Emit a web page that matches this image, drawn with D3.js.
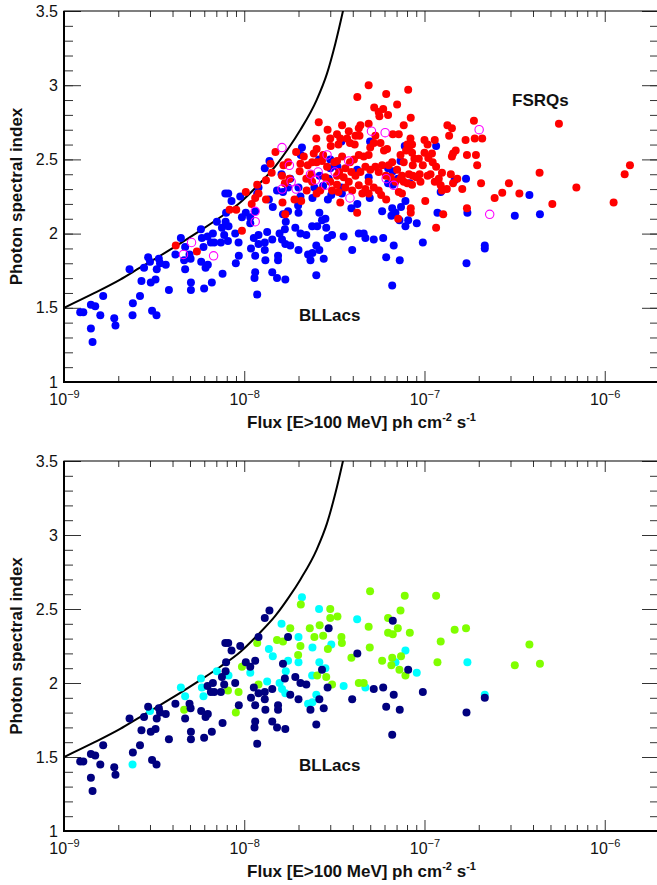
<!DOCTYPE html>
<html lang="en">
<head>
<meta charset="utf-8">
<title>Photon index vs flux</title>
<script src="https://cdn.jsdelivr.net/npm/d3@7"></script>
<style>
  body { margin: 0; background: #fff; }
  svg { font-family: "Liberation Sans", Arial, Helvetica, sans-serif; }
</style>
</head>
<body>
<svg id="chart" width="657" height="885"></svg>
<script>
// BL Lacs (shared by both panels). sed: H = navy, I = cyan, L = green
var blFlux = [
  1.23e-9,1.28e-9,1.41e-9,1.49e-9,1.59e-9,1.65e-9,1.41e-9,1.44e-9,1.90e-9,1.93e-9,
  2.40e-9,2.41e-9,2.64e-9,2.31e-9,2.69e-9,2.78e-9,2.93e-9,3.00e-9,3.03e-9,3.22e-9,
  3.08e-9,3.26e-9,3.27e-9,3.36e-9,3.41e-9,3.67e-9,3.82e-9,4.15e-9,4.45e-9,4.70e-9,
  4.64e-9,4.97e-9,5.04e-9,4.70e-9,5.06e-9,5.06e-9,5.75e-9,5.82e-9,5.94e-9,5.77e-9,
  6.10e-9,6.28e-9,6.61e-9,5.99e-9,6.26e-9,6.70e-9,6.53e-9,6.81e-9,7.05e-9,7.52e-9,
  7.88e-9,8.18e-9,7.74e-9,7.42e-9,8.12e-9,7.58e-9,7.93e-9,7.85e-9,8.15e-9,8.50e-9,
  8.91e-9,9.30e-9,9.33e-9,8.98e-9,9.50e-9,9.71e-9,1.02e-8,1.08e-8,1.08e-8,1.15e-8,
  1.09e-8,1.13e-8,1.15e-8,1.15e-8,1.14e-8,1.18e-8,1.18e-8,1.20e-8,1.20e-8,1.20e-8,
  1.30e-8,1.38e-8,1.37e-8,1.44e-8,1.34e-8,1.61e-8,1.80e-8,1.75e-8,2.00e-8,2.09e-8,
  2.06e-8,2.31e-8,2.45e-8,2.05e-8,1.99e-8,2.39e-8,2.00e-8,1.75e-8,1.64e-8,1.70e-8,
  1.68e-8,1.57e-8,1.62e-8,1.69e-8,1.43e-8,1.30e-8,1.30e-8,1.31e-8,1.54e-8,1.54e-8,
  1.43e-8,1.52e-8,1.69e-8,1.80e-8,1.92e-8,2.05e-8,2.21e-8,2.00e-8,2.26e-8,2.39e-8,
  2.51e-8,2.33e-8,2.61e-8,2.76e-8,2.51e-8,2.38e-8,2.54e-8,2.70e-8,2.61e-8,2.82e-8,
  2.85e-8,2.90e-8,3.07e-8,2.91e-8,3.04e-8,2.74e-8,2.94e-8,2.62e-8,3.00e-8,3.00e-8,
  3.29e-8,3.46e-8,3.48e-8,3.56e-8,3.97e-8,3.93e-8,4.23e-8,4.24e-8,4.32e-8,4.60e-8,
  4.70e-8,4.90e-8,4.99e-8,4.97e-8,5.23e-8,5.90e-8,5.82e-8,6.13e-8,6.28e-8,6.67e-8,
  6.28e-8,6.67e-8,7.11e-8,7.36e-8,6.62e-8,6.90e-8,6.55e-8,7.41e-8,7.26e-8,7.84e-8,
  8.12e-8,7.84e-8,6.75e-8,7.29e-8,6.62e-8,7.77e-8,8.29e-8,9.06e-8,9.79e-8,1.16e-7,
  1.23e-7,1.18e-7,1.52e-8,1.64e-8,2.60e-8,
  1.47e-7,1.70e-7,1.73e-7,2.16e-7,2.16e-7,1.71e-7,3.82e-7,3.17e-7,4.37e-7
];
var blIndex = [
  1.47,1.47,1.52,1.51,1.45,1.58,1.36,1.27,1.43,1.38,
  1.45,1.53,1.58,1.76,1.68,1.77,1.84,1.81,1.67,1.69,
  1.48,1.45,1.76,1.83,1.80,1.79,1.62,1.86,1.97,1.91,
  1.82,1.86,1.83,1.76,1.67,1.62,2.03,1.97,1.91,1.81,
  1.77,1.79,1.67,1.63,1.98,2.00,1.94,1.94,2.08,2.04,
  2.08,2.05,1.99,1.94,1.95,1.73,2.14,2.27,2.27,2.22,
  2.00,1.94,1.85,1.80,2.25,2.11,2.14,2.11,2.07,2.15,
  1.90,1.97,1.85,1.74,1.70,1.59,2.27,1.99,1.93,2.31,
  2.44,2.49,2.23,2.18,2.01,2.40,2.37,2.31,2.31,2.58,
  2.53,2.37,2.31,2.25,2.19,2.24,2.14,2.15,2.13,2.08,
  2.03,2.00,1.96,1.93,1.96,1.94,1.89,1.82,1.85,1.82,
  1.74,1.70,1.69,1.92,2.04,2.00,1.99,1.89,1.86,1.87,
  1.92,1.82,1.89,1.83,1.72,2.05,2.05,2.09,2.14,2.10,
  2.04,1.97,1.99,2.23,2.26,2.32,2.37,2.39,2.50,2.44,
  2.45,2.31,2.27,1.98,1.89,2.17,2.43,2.20,2.00,2.00,
  1.97,2.38,2.62,2.24,1.96,1.97,2.15,1.84,2.44,2.42,
  2.34,2.33,2.37,2.49,2.17,2.14,2.12,2.18,2.09,2.22,
  2.09,2.05,1.92,1.82,1.65,2.59,2.34,2.07,1.94,2.59,
  2.28,2.14,2.29,2.28,2.50,
  2.36,2.37,2.14,1.92,1.90,1.80,2.26,2.12,2.13
];
var blSed = [
  "H","H","H","H","H","H","H","H","H","H",
  "I","H","H","H","H","H","H","I","H","H",
  "H","H","H","H","H","H","H","H","I","I",
  "L","H","H","H","H","H","I","I","I","H",
  "H","H","H","H","H","H","H","H","I","H",
  "H","I","H","H","L","H","H","H","H","H",
  "H","L","H","L","H","L","H","H","I","H",
  "H","H","H","H","H","H","L","L","H","H",
  "H","H","I","I","I","I","L","H","I","I",
  "L","L","L","L","L","I","I","I","H","I",
  "H","I","I","I","H","H","H","H","H","H",
  "H","H","H","H","H","H","H","H","I","I",
  "I","H","H","H","H","I","L","H","I","I",
  "L","H","L","L","I","L","H","L","L","L",
  "L","L","L","I","H","L","I","H","L","L",
  "I","L","L","L","H","H","L","H","L","H",
  "L","L","L","L","L","I","L","L","L","I",
  "H","L","H","H","H","L","L","I","H","L",
  "L","L","L","L","I",
  "L","L","I","I","H","H","L","L","L"
];
// BL Lacs seen only in the upper panel
var blExtraFlux = [3.46e-8];
var blExtraIndex = [2.62];

// FSRQs (upper panel)
var fsrqFlux = [
  4.17e-9,5.46e-9,9.71e-9,9.03e-9,8.29e-9,1.10e-8,1.15e-8,1.20e-8,1.32e-8,1.02e-8,
  1.18e-8,1.32e-8,1.40e-8,1.49e-8,1.65e-8,1.75e-8,1.62e-8,1.68e-8,1.78e-8,1.63e-8,
  1.69e-8,1.90e-8,2.07e-8,1.94e-8,2.14e-8,2.03e-8,2.25e-8,2.21e-8,2.43e-8,2.51e-8,
  2.59e-8,2.52e-8,2.70e-8,2.52e-8,2.90e-8,3.00e-8,3.02e-8,3.27e-8,3.16e-8,2.88e-8,
  2.82e-8,2.64e-8,2.52e-8,3.00e-8,3.27e-8,3.07e-8,2.36e-8,2.38e-8,1.42e-8,3.33e-8,
  2.74e-8,2.38e-8,2.05e-8,3.27e-8,3.33e-8,2.22e-8,
  4.90e-8,6.13e-8,8.12e-8,4.24e-8,5.26e-8,5.57e-8,5.90e-8,7.05e-8,6.28e-8,5.62e-8,
  8.39e-8,4.41e-8,4.32e-8,4.90e-8,3.49e-8,3.80e-8,3.72e-8,3.86e-8,3.41e-8,4.14e-8,
  4.36e-8,4.10e-8,5.34e-8,7.67e-8,6.67e-8,7.20e-8,8.03e-8,8.53e-8,8.36e-8,1.00e-7,
  1.14e-7,1.04e-7,1.34e-7,1.37e-7,1.42e-7,1.69e-7,1.88e-7,1.90e-7,2.09e-7,1.00e-7,
  1.05e-7,1.10e-7,1.11e-7,9.30e-8,8.53e-8,8.79e-8,7.91e-8,8.20e-8,7.36e-8,7.67e-8,
  8.61e-8,9.79e-8,1.16e-7,1.25e-7,1.44e-7,1.42e-7,1.49e-7,1.40e-7,1.72e-7,1.93e-7,
  1.96e-7,2.06e-7,1.62e-7,1.52e-7,1.44e-7,1.33e-7,1.25e-7,1.23e-7,1.20e-7,1.14e-7,
  1.04e-7,1.08e-7,1.01e-7,1.16e-7,1.27e-7,1.72e-7,8.39e-8,8.39e-8,7.14e-8,9.40e-8,
  9.00e-8,9.50e-8,8.53e-8,8.03e-8,8.61e-8,8.20e-8,7.50e-8,7.67e-8,7.05e-8,6.62e-8,
  6.33e-8,5.82e-8,5.96e-8,6.20e-8,5.70e-8,5.23e-8,5.00e-8,4.90e-8,4.60e-8,4.32e-8,
  4.06e-8,3.86e-8,3.49e-8,3.27e-8,3.64e-8,3.93e-8,4.14e-8,4.41e-8,4.70e-8,5.00e-8,
  5.34e-8,5.57e-8,6.10e-8,6.50e-8,6.90e-8,7.36e-8,3.36e-8,3.56e-8,3.80e-8,3.64e-8,
  3.97e-8,4.32e-8,4.70e-8,4.90e-8,5.23e-8,4.52e-8,4.90e-8,5.57e-8,5.75e-8,7.20e-8,
  7.50e-8,3.41e-8,4.23e-8,6.13e-8,
  5.57e-7,2.94e-7,2.70e-7,2.45e-7,3.36e-7,4.35e-7,5.12e-7,6.96e-7,1.12e-6,1.29e-6,1.38e-6
];
var fsrqIndex = [
  1.92,1.88,2.02,2.16,2.16,2.20,2.24,2.27,2.23,2.28,
  2.33,2.36,2.47,2.55,2.46,2.48,2.39,2.34,2.37,2.21,
  2.13,2.23,2.22,2.55,2.52,2.42,2.46,2.37,2.54,2.64,
  2.75,2.57,2.49,2.48,2.70,2.64,2.59,2.67,2.48,2.45,
  2.38,2.29,2.27,2.35,2.39,2.29,2.40,2.35,2.41,2.60,
  2.53,2.48,2.47,2.33,2.28,2.29,
  3.00,2.94,2.97,2.92,2.85,2.82,2.84,2.87,2.80,2.79,
  2.78,2.73,2.71,2.74,2.73,2.69,2.64,2.61,2.64,2.66,
  2.66,2.60,2.66,2.73,2.67,2.67,2.60,2.60,2.64,2.63,
  2.63,2.60,2.73,2.66,2.71,2.63,2.76,2.64,2.64,2.545,
  2.51,2.54,2.48,2.505,2.545,2.505,2.56,2.58,2.53,2.48,
  2.46,2.46,2.45,2.41,2.54,2.52,2.56,2.40,2.53,2.53,
  2.46,2.34,2.30,2.37,2.34,2.30,2.29,2.325,2.37,2.35,
  2.39,2.40,2.22,2.04,2.13,2.17,2.17,2.14,2.10,2.40,
  2.38,2.35,2.33,2.34,2.39,2.40,2.39,2.35,2.43,2.48,
  2.46,2.46,2.56,2.57,2.61,2.61,2.58,2.53,2.52,2.53,
  2.50,2.48,2.52,2.49,2.44,2.415,2.39,2.415,2.45,2.43,
  2.45,2.415,2.39,2.38,2.35,2.37,2.415,2.38,2.35,2.31,
  2.29,2.325,2.30,2.35,2.31,2.27,2.27,2.29,2.26,2.28,
  2.27,2.21,2.14,2.23,
  2.74,2.34,2.275,2.24,2.27,2.41,2.20,2.31,2.21,2.40,2.46
];

// open magenta circles (upper panel)
var openFlux = [
  5.1e-9,4.6e-9,6.76e-9,1.15e-8,1.15e-8,1.62e-8,1.78e-8,1.62e-8,1.82e-8,1.94e-8,
  2.33e-8,2.57e-8,2.48e-8,2.82e-8,2.88e-8,3.19e-8,3.80e-8,3.86e-8,5.08e-8,6.05e-8,
  6.13e-8,6.75e-8,2.01e-7,2.30e-7
];
var openIndex = [
  1.94,1.86,1.85,2.15,2.08,2.58,2.46,2.30,2.35,2.30,
  2.40,2.415,2.36,2.325,2.53,2.415,2.49,2.24,2.69,2.68,
  2.37,2.325,2.70,2.13
];

// limiting curve
var limFlux  = [1.0e-9,1.45e-9,2.05e-9,2.64e-9,3.41e-9,5.7e-9,7.36e-9,9.5e-9,1.2e-8,1.49e-8,1.77e-8,2.05e-8,2.52e-8,2.88e-8,3.2e-8,3.56e-8,3.8e-8];
var limIndex = [1.50,1.595,1.69,1.77,1.85,2.02,2.11,2.21,2.33,2.455,2.58,2.70,2.90,3.08,3.28,3.52,3.68];

var yMajor = [1, 1.5, 2, 2.5, 3, 3.5];
var yMinor = d3.range(10, 36).map(function(d) { return d / 10; });
var xMajorExp = [-9, -8, -7, -6];

var sedColor = { H: "#00007f", I: "#00ffff", L: "#80ff00" };

var svg = d3.select("#chart");
var xL = 64, xR = 659;
var x = d3.scaleLog().domain([1e-9, 2e-6]).range([xL, xR]);

var xMinor = [];
[-9, -8, -7, -6].forEach(function(e) {
  for (var m = 2; m <= 9; m++) {
    var v = m * Math.pow(10, e);
    if (v < 1.99e-6) xMinor.push(v);
  }
});
var xMajor = xMajorExp.map(function(e) { return Math.pow(10, e); });

function panel(top, bottom, id) {
  var y = d3.scaleLinear().domain([1, 3.5]).range([bottom, top]);
  var g = svg.append("g");

  g.append("clipPath").attr("id", "clip" + id)
    .append("rect").attr("x", xL).attr("y", top).attr("width", xR - xL).attr("height", bottom - top);

  // ticks
  function noDomain(sel) { sel.select(".domain").remove(); sel.selectAll("line").attr("stroke", "#333"); }
  g.append("g").attr("transform", "translate(" + xL + ",0)")
    .call(d3.axisLeft(y).tickValues(yMinor).tickSize(-9).tickFormat("")).call(noDomain);
  g.append("g").attr("transform", "translate(" + xL + ",0)")
    .call(d3.axisLeft(y).tickValues(yMajor).tickSize(-17).tickPadding(6).tickFormat(d3.format("")))
    .call(noDomain)
    .selectAll("text").attr("font-size", 16).attr("fill", "#111");
  g.append("g").attr("transform", "translate(" + xR + ",0)")
    .call(d3.axisRight(y).tickValues(yMinor).tickSize(-9).tickFormat("")).call(noDomain);
  g.append("g").attr("transform", "translate(" + xR + ",0)")
    .call(d3.axisRight(y).tickValues(yMajor).tickSize(-17).tickFormat("")).call(noDomain);

  g.append("g").attr("transform", "translate(0," + top + ")")
    .call(d3.axisTop(x).tickValues(xMinor).tickSize(-6).tickFormat("")).call(noDomain);
  g.append("g").attr("transform", "translate(0," + top + ")")
    .call(d3.axisTop(x).tickValues(xMajor).tickSize(-11).tickFormat("")).call(noDomain);
  g.append("g").attr("transform", "translate(0," + bottom + ")")
    .call(d3.axisBottom(x).tickValues(xMinor).tickSize(-6).tickFormat("")).call(noDomain);
  var xb = g.append("g").attr("transform", "translate(0," + bottom + ")")
    .call(d3.axisBottom(x).tickValues(xMajor).tickSize(-11).tickFormat("")).call(noDomain);
  xb.selectAll(".tick").append("text")
    .attr("y", 23).attr("fill", "#111").attr("text-anchor", "middle").attr("font-size", 16)
    .each(function(d, i) {
      var t = d3.select(this);
      t.append("tspan").text("10");
      t.append("tspan").attr("dy", -7).attr("font-size", 11).text(String(xMajorExp[i]).replace("-", "\u2212"));
    });

  // frame
  g.append("rect").attr("x", xL).attr("y", top).attr("width", xR - xL).attr("height", bottom - top)
    .attr("fill", "none").attr("stroke", "#000").attr("stroke-width", 1);
  g.append("path").attr("d", "M" + xL + "," + top + "V" + bottom + "H" + xR)
    .attr("fill", "none").attr("stroke", "#000").attr("stroke-width", 2);

  // axis titles
  g.append("text")
    .attr("transform", "translate(22," + ((top + bottom) / 2) + ") rotate(-90)")
    .attr("text-anchor", "middle").attr("font-size", 17).attr("font-weight", "bold").attr("fill", "#111")
    .text("Photon spectral index");
  var xt = g.append("text").attr("x", (xL + xR) / 2).attr("y", bottom + 46)
    .attr("text-anchor", "middle").attr("font-size", 17).attr("font-weight", "bold").attr("fill", "#111");
  xt.append("tspan").text("Flux [E>100 MeV] ph cm");
  xt.append("tspan").attr("dy", -7).attr("font-size", 11).text("-2");
  xt.append("tspan").attr("dy", 7).text(" s");
  xt.append("tspan").attr("dy", -7).attr("font-size", 11).text("-1");

  return { g: g, y: y, clip: "url(#clip" + id + ")" };
}

function limitCurve(p) {
  var line = d3.line()
    .x(function(d, i) { return x(limFlux[i]); })
    .y(function(d, i) { return p.y(limIndex[i]); })
    .curve(d3.curveMonotoneX);
  p.g.append("path").datum(limFlux).attr("d", line).attr("clip-path", p.clip)
    .attr("fill", "none").attr("stroke", "#000").attr("stroke-width", 2);
}

function dots(p, fl, idx, color) {
  p.g.append("g").attr("clip-path", p.clip).selectAll("circle")
    .data(fl).enter().append("circle")
    .attr("cx", function(d) { return x(d); })
    .attr("cy", function(d, i) { return p.y(idx[i]); })
    .attr("r", 4)
    .attr("fill", color);
}

// upper panel
var p1 = panel(11, 382, "a");
limitCurve(p1);
dots(p1, blFlux, blIndex, "#0000ff");
dots(p1, blExtraFlux, blExtraIndex, "#0000ff");
dots(p1, fsrqFlux, fsrqIndex, "#ff0000");
p1.g.append("g").selectAll("circle").data(openFlux).enter().append("circle")
  .attr("cx", function(d) { return x(d); })
  .attr("cy", function(d, i) { return p1.y(openIndex[i]); })
  .attr("r", 4.2).attr("fill", "none").attr("stroke", "#ff00ff").attr("stroke-width", 1.1);
p1.g.append("text").attr("x", 512).attr("y", 106).attr("font-size", 17).attr("font-weight", "bold")
  .attr("fill", "#111").text("FSRQs");
p1.g.append("text").attr("x", 299).attr("y", 321).attr("font-size", 17).attr("font-weight", "bold")
  .attr("fill", "#111").text("BLLacs");

// lower panel
var p2 = panel(461, 831, "b");
limitCurve(p2);
["I", "L", "H"].forEach(function(s) {
  var fl = [], ix = [];
  blSed.forEach(function(t, i) { if (t === s) { fl.push(blFlux[i]); ix.push(blIndex[i]); } });
  dots(p2, fl, ix, sedColor[s]);
});
p2.g.append("text").attr("x", 299).attr("y", 771).attr("font-size", 17).attr("font-weight", "bold")
  .attr("fill", "#111").text("BLLacs");
</script>
</body>
</html>
